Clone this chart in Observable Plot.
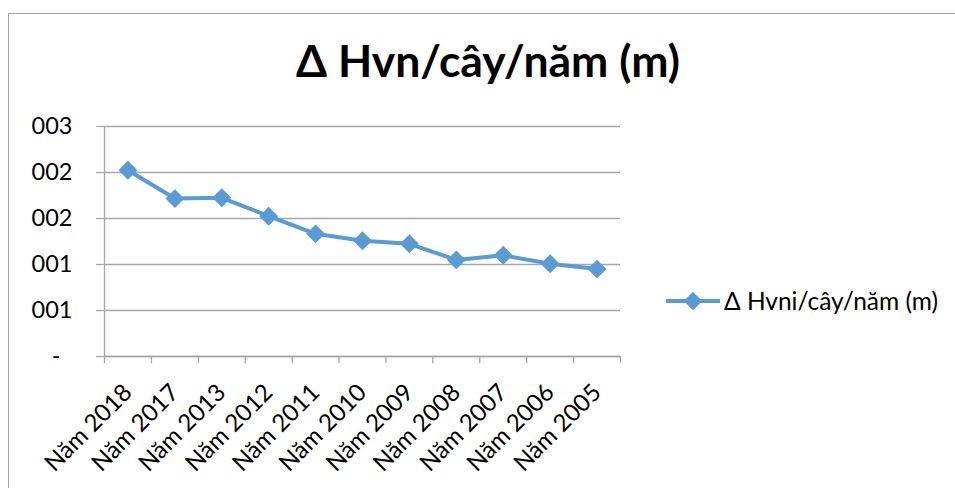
<!DOCTYPE html>
<html>
<head>
<meta charset="utf-8">
<script src="https://cdn.jsdelivr.net/npm/d3@7"></script>
<script src="https://cdn.jsdelivr.net/npm/@observablehq/plot@0.6"></script>
<style>
  html, body { margin: 0; padding: 0; background: #fff; }
  #wrap { position: relative; width: 955px; height: 488px; overflow: hidden; font-family: Lato, "Open Sans", sans-serif; }
  #frame { position: absolute; left: 8px; top: 13px; width: 960px; height: 500px; border-left: 1.5px solid #a6a6a6; border-top: 1.5px solid #a6a6a6; box-sizing: border-box; pointer-events: none; }
  #title { position: absolute; left: 0; width: 976px; top: 33px; text-align: center; font-weight: bold; font-size: 44.5px; color: #000; white-space: nowrap; }
  #legend { position: absolute; left: 664px; top: 286px; display: flex; align-items: center; font-size: 24.5px; color: #000; white-space: nowrap; }
  #chart { position: absolute; left: 0; top: 0; }
</style>
</head>
<body>
<div id="wrap">
  <div id="chart"></div>
  <div id="frame"></div>
  <div id="title">Δ Hvn/cây/năm (m)</div>
  <div id="legend"></div>
</div>
<script>
const categories = ["Năm 2018", "Năm 2017", "Năm 2013", "Năm 2012", "Năm 2011", "Năm 2010", "Năm 2009", "Năm 2008", "Năm 2007", "Năm 2006", "Năm 2005"];
const values = [0.00243, 0.00206, 0.00207, 0.00183, 0.00160, 0.00151, 0.00147, 0.00126, 0.00132, 0.00121, 0.00114];
const yTicks = [0, 0.0006, 0.0012, 0.0018, 0.0024, 0.003];
const yTickLabels = ["-\u00a0\u00a0", "001", "001", "002", "002", "003"];
const seriesName = "Δ Hvni/cây/năm (m)";
const color = "#5b9bd5";
const gridColor = "#a6a6a6";

const data = categories.map((c, i) => ({i, cat: c, v: values[i]}));
const boundaries = d3.range(categories.length + 1).map(k => k - 0.5);

const plot = Plot.plot({
  width: 955,
  height: 488,
  marginLeft: 104,
  marginRight: 335,
  marginTop: 126,
  marginBottom: 132,
  style: {fontFamily: "Lato, 'Open Sans', sans-serif", fontSize: "23px", color: "#000", background: "transparent"},
  x: {type: "linear", domain: [-0.5, categories.length - 0.5]},
  y: {domain: [0, 0.003]},
  marks: [
    Plot.gridY(yTicks, {stroke: gridColor, strokeOpacity: 1, strokeWidth: 1.3}),
    Plot.axisY(yTicks, {tickSize: 8, tickPadding: 24, fontSize: 23.5, stroke: gridColor, strokeWidth: 1.3, fill: "#000", tickFormat: (d, k) => yTickLabels[k], label: null}),
    Plot.ruleX([boundaries[0]], {stroke: gridColor, strokeWidth: 1.3}),
    Plot.ruleY([0], {stroke: gridColor, strokeWidth: 1.3}),
    Plot.axisX(boundaries, {tickSize: 7, stroke: gridColor, strokeWidth: 1.3, tickFormat: () => "", label: null}),
    Plot.axisX(data.map(d => d.i), {tickSize: 0, tickPadding: 32, fontSize: 24, tickRotate: -45, fill: "#000", tickFormat: k => categories[k], label: null}),
    Plot.line(data, {x: "i", y: "v", stroke: color, strokeWidth: 4}),
    Plot.dot(data, {x: "i", y: "v", symbol: "diamond2", r: 8.5, fill: color, stroke: "none"})
  ]
});
document.getElementById("chart").appendChild(plot);

// legend
const leg = document.getElementById("legend");
const sw = d3.create("svg").attr("width", 58).attr("height", 24);
sw.append("line").attr("x1", 2).attr("x2", 56).attr("y1", 12).attr("y2", 12).attr("stroke", color).attr("stroke-width", 4);
sw.append("path").attr("d", d3.symbol(d3.symbolDiamond2, 220)()).attr("transform", "translate(29,12)").attr("fill", color);
leg.appendChild(sw.node());
const t = document.createElement("span");
t.textContent = seriesName;
t.style.marginLeft = "2px";
leg.appendChild(t);
</script>
</body>
</html>
